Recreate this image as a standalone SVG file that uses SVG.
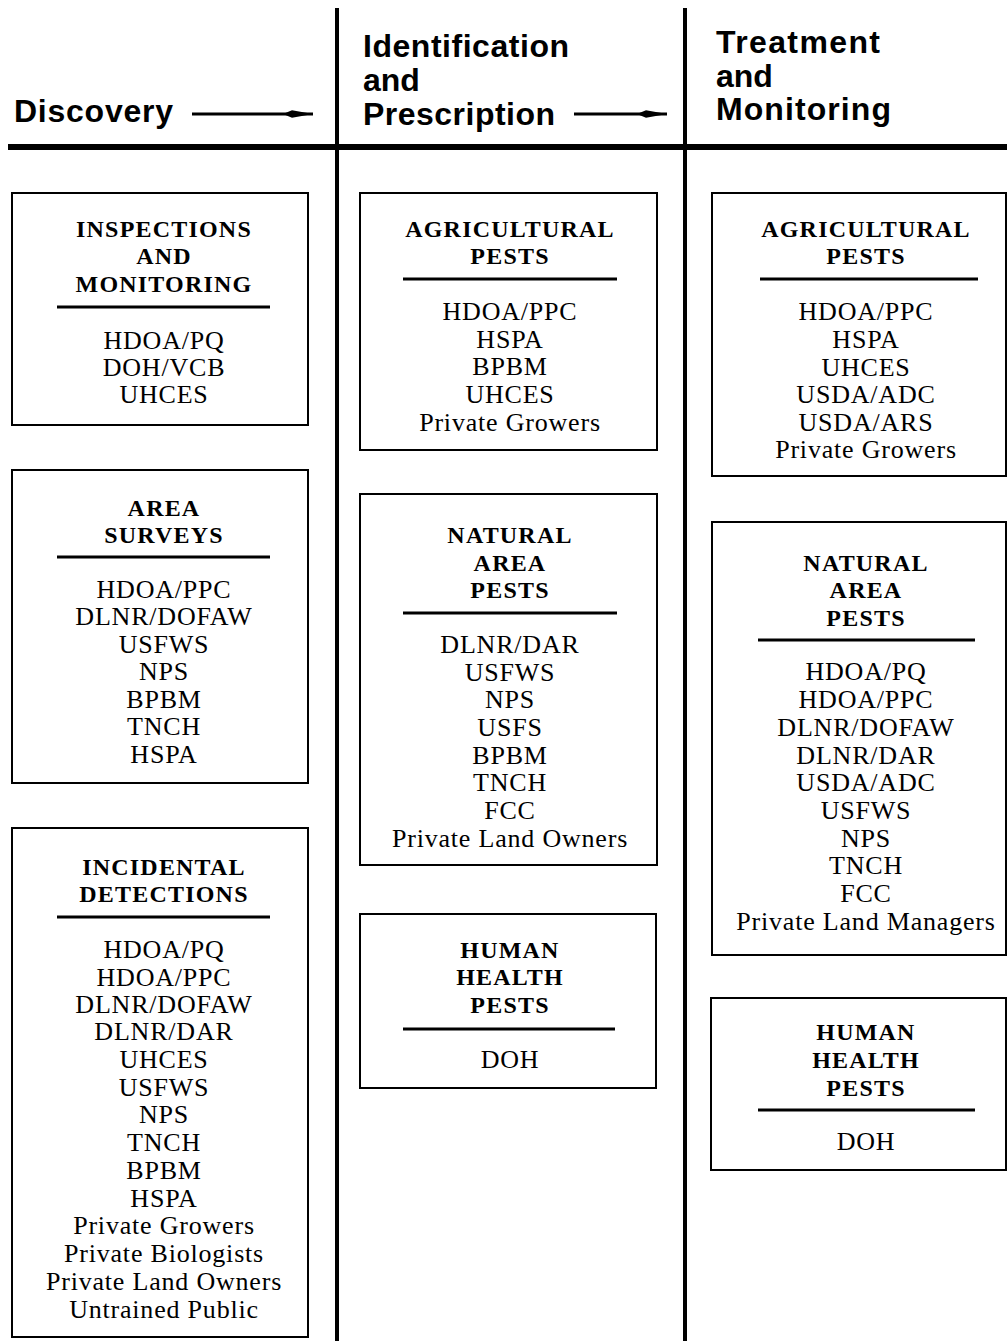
<svg xmlns="http://www.w3.org/2000/svg" width="1007" height="1341" viewBox="0 0 1007 1341">
<style>
.hdr{font-family:"Liberation Sans",Arial,sans-serif;font-weight:bold;font-size:32px;fill:#000}
.box{fill:#fff;stroke:#000;stroke-width:2}
.rule{stroke:#000;stroke-width:3}
.t{font-family:"Liberation Serif","Times New Roman",serif;font-weight:bold;font-size:24px;letter-spacing:1.2px;text-anchor:middle;fill:#000}
.i{font-family:"Liberation Serif","Times New Roman",serif;font-size:26px;letter-spacing:0.8px;text-anchor:middle;fill:#000}
.line{stroke:#000;fill:none}
</style>
<defs>
<marker id="ah" viewBox="0 0 30 8" refX="30" refY="4" markerWidth="30" markerHeight="8" markerUnits="userSpaceOnUse" orient="auto">
<path d="M0,4 L9,0.3 L30,4 L9,7.7 Z" fill="#000"/>
</marker>
</defs>
<rect width="1007" height="1341" fill="#fff"/>
<g id="frame">
<line class="line" x1="337" y1="8" x2="337" y2="1341" stroke-width="4"/>
<line class="line" x1="685" y1="8" x2="685" y2="1341" stroke-width="4"/>
<line class="line" x1="8" y1="147" x2="1007" y2="147" stroke-width="6"/>
</g>
<g id="headers">
<text class="hdr" x="14" y="122" textLength="159">Discovery</text>
<text class="hdr" x="363" y="57" textLength="206">Identification</text>
<text class="hdr" x="363" y="91">and</text>
<text class="hdr" x="363" y="125" textLength="192">Prescription</text>
<text class="hdr" x="716" y="53" textLength="164">Treatment</text>
<text class="hdr" x="716" y="87">and</text>
<text class="hdr" x="716" y="120" textLength="175">Monitoring</text>
</g>
<g id="connectors">
<line class="line" x1="192" y1="114" x2="313" y2="114" stroke-width="3" marker-end="url(#ah)"/>
<line class="line" x1="574" y1="114" x2="667" y2="114" stroke-width="3" marker-end="url(#ah)"/>
</g>
<g id="inspections">
<rect class="box" x="12" y="193" width="296" height="232"/>
<text class="t" x="164" y="237">INSPECTIONS</text>
<text class="t" x="164" y="264">AND</text>
<text class="t" x="164" y="292">MONITORING</text>
<line class="rule" x1="57" y1="307" x2="270" y2="307"/>
<text class="i" x="164" y="349">HDOA/PQ</text>
<text class="i" x="164" y="376">DOH/VCB</text>
<text class="i" x="164" y="403">UHCES</text>
</g>
<g id="area-surveys">
<rect class="box" x="12" y="470" width="296" height="313"/>
<text class="t" x="164" y="516">AREA</text>
<text class="t" x="164" y="543">SURVEYS</text>
<line class="rule" x1="57" y1="557" x2="270" y2="557"/>
<text class="i" x="164" y="598">HDOA/PPC</text>
<text class="i" x="164" y="625">DLNR/DOFAW</text>
<text class="i" x="164" y="653">USFWS</text>
<text class="i" x="164" y="680">NPS</text>
<text class="i" x="164" y="708">BPBM</text>
<text class="i" x="164" y="735">TNCH</text>
<text class="i" x="164" y="763">HSPA</text>
</g>
<g id="incidental">
<rect class="box" x="12" y="828" width="296" height="509"/>
<text class="t" x="164" y="875">INCIDENTAL</text>
<text class="t" x="164" y="902">DETECTIONS</text>
<line class="rule" x1="57" y1="917" x2="270" y2="917"/>
<text class="i" x="164" y="958">HDOA/PQ</text>
<text class="i" x="164" y="986">HDOA/PPC</text>
<text class="i" x="164" y="1013">DLNR/DOFAW</text>
<text class="i" x="164" y="1040">DLNR/DAR</text>
<text class="i" x="164" y="1068">UHCES</text>
<text class="i" x="164" y="1096">USFWS</text>
<text class="i" x="164" y="1123">NPS</text>
<text class="i" x="164" y="1151">TNCH</text>
<text class="i" x="164" y="1179">BPBM</text>
<text class="i" x="164" y="1207">HSPA</text>
<text class="i" x="164" y="1234">Private Growers</text>
<text class="i" x="164" y="1262">Private Biologists</text>
<text class="i" x="164" y="1290">Private Land Owners</text>
<text class="i" x="164" y="1318">Untrained Public</text>
</g>
<g id="id-agricultural">
<rect class="box" x="360" y="193" width="297" height="257"/>
<text class="t" x="510" y="237">AGRICULTURAL</text>
<text class="t" x="510" y="264">PESTS</text>
<line class="rule" x1="403" y1="279" x2="617" y2="279"/>
<text class="i" x="510" y="320">HDOA/PPC</text>
<text class="i" x="510" y="348">HSPA</text>
<text class="i" x="510" y="375">BPBM</text>
<text class="i" x="510" y="403">UHCES</text>
<text class="i" x="510" y="431">Private Growers</text>
</g>
<g id="id-natural">
<rect class="box" x="360" y="494" width="297" height="371"/>
<text class="t" x="510" y="543">NATURAL</text>
<text class="t" x="510" y="571">AREA</text>
<text class="t" x="510" y="598">PESTS</text>
<line class="rule" x1="403" y1="613" x2="617" y2="613"/>
<text class="i" x="510" y="653">DLNR/DAR</text>
<text class="i" x="510" y="681">USFWS</text>
<text class="i" x="510" y="708">NPS</text>
<text class="i" x="510" y="736">USFS</text>
<text class="i" x="510" y="764">BPBM</text>
<text class="i" x="510" y="791">TNCH</text>
<text class="i" x="510" y="819">FCC</text>
<text class="i" x="510" y="847">Private Land Owners</text>
</g>
<g id="id-human">
<rect class="box" x="360" y="914" width="296" height="174"/>
<text class="t" x="510" y="958">HUMAN</text>
<text class="t" x="510" y="985">HEALTH</text>
<text class="t" x="510" y="1013">PESTS</text>
<line class="rule" x1="403" y1="1029" x2="615" y2="1029"/>
<text class="i" x="510" y="1068">DOH</text>
</g>
<g id="tr-agricultural">
<rect class="box" x="712" y="193" width="294" height="283"/>
<text class="t" x="866" y="237">AGRICULTURAL</text>
<text class="t" x="866" y="264">PESTS</text>
<line class="rule" x1="760" y1="279" x2="978" y2="279"/>
<text class="i" x="866" y="320">HDOA/PPC</text>
<text class="i" x="866" y="348">HSPA</text>
<text class="i" x="866" y="376">UHCES</text>
<text class="i" x="866" y="403">USDA/ADC</text>
<text class="i" x="866" y="431">USDA/ARS</text>
<text class="i" x="866" y="458">Private Growers</text>
</g>
<g id="tr-natural">
<rect class="box" x="712" y="522" width="294" height="433"/>
<text class="t" x="866" y="571">NATURAL</text>
<text class="t" x="866" y="598">AREA</text>
<text class="t" x="866" y="626">PESTS</text>
<line class="rule" x1="758" y1="640" x2="975" y2="640"/>
<text class="i" x="866" y="680">HDOA/PQ</text>
<text class="i" x="866" y="708">HDOA/PPC</text>
<text class="i" x="866" y="736">DLNR/DOFAW</text>
<text class="i" x="866" y="764">DLNR/DAR</text>
<text class="i" x="866" y="791">USDA/ADC</text>
<text class="i" x="866" y="819">USFWS</text>
<text class="i" x="866" y="847">NPS</text>
<text class="i" x="866" y="874">TNCH</text>
<text class="i" x="866" y="902">FCC</text>
<text class="i" x="866" y="930">Private Land Managers</text>
</g>
<g id="tr-human">
<rect class="box" x="711" y="998" width="295" height="172"/>
<text class="t" x="866" y="1040">HUMAN</text>
<text class="t" x="866" y="1068">HEALTH</text>
<text class="t" x="866" y="1096">PESTS</text>
<line class="rule" x1="758" y1="1110" x2="975" y2="1110"/>
<text class="i" x="866" y="1150">DOH</text>
</g>
</svg>
